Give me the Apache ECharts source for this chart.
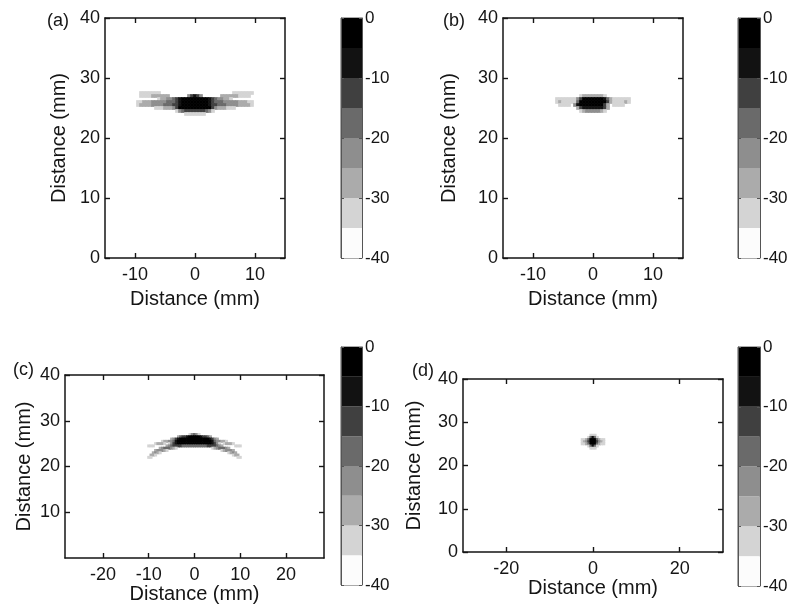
<!DOCTYPE html>
<html>
<head>
<meta charset="utf-8">
<script src="https://cdn.jsdelivr.net/npm/echarts@6/dist/echarts.min.js"></script>
<style>html,body{margin:0;padding:0;background:#fff}#c{width:791px;height:605px}</style>
</head>
<body>
<div id="c"></div>
<script>
// ---------------- DATA ----------------
// colour scale (dB) : 8 bands of 5 dB
const levelEdges = [-40, -35, -30, -25, -20, -15, -10, -5, 0];
const levelColors = ['#fcfcfc', '#d4d4d4', '#ababab', '#8e8e8e', '#6a6a6a', '#404040', '#121212', '#000000'];
const colorbarTicks = [-40, -30, -20, -10, 0];
const panelLabels = ['(a)', '(b)', '(c)', '(d)'];
const axisTitle = 'Distance (mm)';
const xTicksA = [-10, 0, 10];
const xTicksB = [-10, 0, 10];
const xTicksC = [-20, -10, 0, 10, 20];
const xTicksD = [-20, 0, 20];
const yTicksA = [0, 10, 20, 30, 40];
const yTicksB = [0, 10, 20, 30, 40];
const yTicksC = [10, 20, 30, 40];
const yTicksD = [0, 10, 20, 30, 40];
const xRangeA = [-15, 15];
const xRangeB = [-15, 15];
const xRangeC = [-28.3, 28.3];
const xRangeD = [-30, 30];
const yRange = [0, 40];

// Images, 0.5 mm cells. Each row (top to bottom) is a list of
// [first column, codes]; code d (1..7) = the band whose centre is -37.5+5d dB.
const cellStep = 0.5;
const psfA_x0 = -10, psfA_yTop = 27.5;
const psfA = [
  [[2, '1111111'], [33, '1111111']],
  [[2, '1111222222'], [18, '35653'], [29, '2222221111']],
  [[8, '1223345677777777765433221']],
  [[1, '112223333344456777777777654443333322211']],
  [[1, '122223333444556777777777655444333322221']],
  [[7, '111222357777777777753222111']],
  [[14, '1345555555431']],
  [[17, '1111111']]
];
const psfB_x0 = -6.5, psfB_yTop = 27;
const psfB = [
  [[9, '122222221']],
  [[1, '1111111357777777642111111']],
  [[1, '1211111477777777752111121']],
  [[2, '1111'], [7, '367777777752'], [20, '1111']],
  [[8, '25666666652']],
  [[9, '123333321']]
];
const psfC_x0 = -10.5, psfC_yTop = 27;
const psfC = [
  [[19, '13431']],
  [[14, '245567777765542']],
  [[11, '235677777777777776532']],
  [[7, '12233467777777777777776433221']],
  [[4, '12221'], [10, '13567777777777777776531'], [34, '12221']],
  [[1, '111'], [9, '2345555444444444445555432'], [39, '111']],
  [[6, '23444321'], [29, '12344432']],
  [[4, '233321'], [33, '123332']],
  [[3, '2321'], [36, '1232']],
  [[2, '221'], [38, '122']],
  [[1, '11'], [40, '11']]
];
const psfD_x0 = -2.5, psfD_yTop = 27;
const psfD = [
  [[4, '111']],
  [[3, '14641']],
  [[0, '11247774211']],
  [[0, '12357775321']],
  [[0, '11247774211']],
  [[3, '14641']],
  [[4, '111']]
];

// ---------------- BUILD ----------------
function decode(rows, x0, yTop) {
  const out = [];
  rows.forEach((segs, r) => {
    const y = yTop - r * cellStep;
    segs.forEach(([start, s]) => {
      for (let i = 0; i < s.length; i++) {
        const ch = s[i];
        if (ch >= '1' && ch <= '7') {
          out.push([x0 + (start + i) * cellStep, y, (levelEdges[+ch] + levelEdges[+ch + 1]) / 2]);
        }
      }
    });
  });
  return out;
}
function colorOf(v) {
  for (let k = 0; k < levelEdges.length - 1; k++) {
    if (v >= levelEdges[k] && v < levelEdges[k + 1]) return levelColors[k];
  }
  return v >= 0 ? levelColors[levelColors.length - 1] : levelColors[0];
}

const FONT = '"Liberation Sans", Arial, Helvetica, sans-serif';
const INK = '#151515';

const panels = [
  { cells: decode(psfA, psfA_x0, psfA_yTop), xr: xRangeA, xt: xTicksA, yt: yTicksA },
  { cells: decode(psfB, psfB_x0, psfB_yTop), xr: xRangeB, xt: xTicksB, yt: yTicksB },
  { cells: decode(psfC, psfC_x0, psfC_yTop), xr: xRangeC, xt: xTicksC, yt: yTicksC },
  { cells: decode(psfD, psfD_x0, psfD_yTop), xr: xRangeD, xt: xTicksD, yt: yTicksD }
];
// layout (pixels)
const layout = [
  { grid: { left: 105, top: 18, width: 180, height: 240 }, cb: { left: 341, top: 18, width: 21, height: 240 }, xGap: 31, yGap: 36, lab: [47, 21] },
  { grid: { left: 503, top: 18, width: 180, height: 240 }, cb: { left: 738, top: 18, width: 22, height: 240 }, xGap: 31, yGap: 44, lab: [443, 21] },
  { grid: { left: 65, top: 375, width: 259, height: 183 }, cb: { left: 341, top: 347, width: 21, height: 238 }, xGap: 22, yGap: 31, lab: [13, 370] },
  { grid: { left: 463, top: 379, width: 260, height: 173 }, cb: { left: 738, top: 347, width: 22, height: 239 }, xGap: 26, yGap: 39, lab: [412, 371] }
];

const grids = [], xAxes = [], yAxes = [], series = [], graphics = [];
function tickOpt(vals, len, color, w) {
  return { show: true, inside: true, length: len, lineStyle: { color: color, width: w }, customValues: vals.slice() };
}
function lineOpt(color, w) {
  return { show: true, onZero: false, lineStyle: { color: color, width: w } };
}

layout.forEach((L, k) => {
  grids.push(Object.assign({ containLabel: false, outerBoundsMode: 'none' }, L.grid));
});
layout.forEach((L, k) => {
  grids.push(Object.assign({ show: true, borderColor: '#555', borderWidth: 1, backgroundColor: '#fff', containLabel: false, outerBoundsMode: 'none' }, L.cb));
});

panels.forEach((P, k) => {
  const L = layout[k];
  xAxes.push({
    type: 'value', gridIndex: k, position: 'bottom', min: P.xr[0], max: P.xr[1],
    axisLine: lineOpt(INK, 1.5), splitLine: { show: false },
    axisTick: tickOpt(P.xt, 5, INK, 1.4),
    axisLabel: { show: true, customValues: P.xt.slice(), margin: 8, fontSize: 18, fontFamily: FONT, color: INK },
    name: axisTitle, nameLocation: 'middle', nameGap: L.xGap,
    nameTextStyle: { fontSize: 20, fontFamily: FONT, color: INK }
  });
  xAxes.push({
    type: 'value', gridIndex: k, position: 'top', min: P.xr[0], max: P.xr[1],
    axisLine: lineOpt(INK, 1.5), splitLine: { show: false },
    axisTick: tickOpt(P.xt, 5, INK, 1.4),
    axisLabel: { show: false }
  });
  yAxes.push({
    type: 'value', gridIndex: k, position: 'left', min: yRange[0], max: yRange[1],
    axisLine: lineOpt(INK, 1.5), splitLine: { show: false },
    axisTick: tickOpt(P.yt, 5, INK, 1.4),
    axisLabel: { show: true, customValues: P.yt.slice(), margin: 5, fontSize: 18, fontFamily: FONT, color: INK },
    name: axisTitle, nameLocation: 'middle', nameGap: L.yGap,
    nameTextStyle: { fontSize: 20, fontFamily: FONT, color: INK }
  });
  yAxes.push({
    type: 'value', gridIndex: k, position: 'right', min: yRange[0], max: yRange[1],
    axisLine: lineOpt(INK, 1.5), splitLine: { show: false },
    axisTick: tickOpt(P.yt, 5, INK, 1.4),
    axisLabel: { show: false }
  });
  series.push({
    type: 'custom', xAxisIndex: 2 * k, yAxisIndex: 2 * k, clip: true, silent: true,
    data: P.cells,
    renderItem: function (params, api) {
      const x = api.value(0), y = api.value(1), v = api.value(2);
      const a = api.coord([x - cellStep / 2, y + cellStep / 2]);
      const b = api.coord([x + cellStep / 2, y - cellStep / 2]);
      return {
        type: 'rect',
        shape: { x: a[0] - 0.35, y: a[1] - 0.35, width: b[0] - a[0] + 0.7, height: b[1] - a[1] + 0.7 },
        style: { fill: colorOf(v) }
      };
    }
  });
  graphics.push({
    type: 'text', x: L.lab[0], y: L.lab[1], silent: true,
    style: { text: panelLabels[k], fontSize: 18, fontFamily: FONT, fill: INK, verticalAlign: 'middle', align: 'left' }
  });
});

// colour bars
const bandData = [];
for (let k = 0; k < levelEdges.length - 1; k++) bandData.push([0.5, levelEdges[k], levelEdges[k + 1], k]);

layout.forEach((L, j) => {
  const g = 4 + j;
  xAxes.push({ type: 'value', gridIndex: g, min: 0, max: 1, show: false });
  yAxes.push({
    type: 'value', gridIndex: g, position: 'left', min: -40, max: 0, interval: 10, z: 5,
    axisLine: lineOpt('#555', 1), splitLine: { show: false },
    axisTick: tickOpt(colorbarTicks, 3, '#555', 1),
    axisLabel: { show: false }
  });
  yAxes.push({
    type: 'value', gridIndex: g, position: 'right', min: -40, max: 0, interval: 10, z: 5,
    axisLine: lineOpt('#555', 1), splitLine: { show: false },
    axisTick: tickOpt(colorbarTicks, 3, '#555', 1),
    axisLabel: { show: true, customValues: colorbarTicks.slice(), margin: 3, fontSize: 17, fontFamily: FONT, color: INK }
  });
  series.push({
    type: 'custom', xAxisIndex: 8 + j, yAxisIndex: 9 + 2 * j, silent: true, z: 1,
    data: bandData,
    renderItem: function (params, api) {
      const lo = api.value(1), hi = api.value(2), idx = api.value(3);
      const a = api.coord([0, hi]);
      const b = api.coord([1, lo]);
      return {
        type: 'rect',
        shape: { x: a[0], y: a[1], width: b[0] - a[0], height: b[1] - a[1] },
        style: { fill: levelColors[idx] }
      };
    }
  });
});

const chart = echarts.init(document.getElementById('c'), null, { renderer: 'canvas' });
chart.setOption({
  animation: false,
  backgroundColor: '#fff',
  textStyle: { fontFamily: FONT },
  grid: grids,
  xAxis: xAxes,
  yAxis: yAxes,
  series: series,
  graphic: graphics
});
</script>
</body>
</html>
